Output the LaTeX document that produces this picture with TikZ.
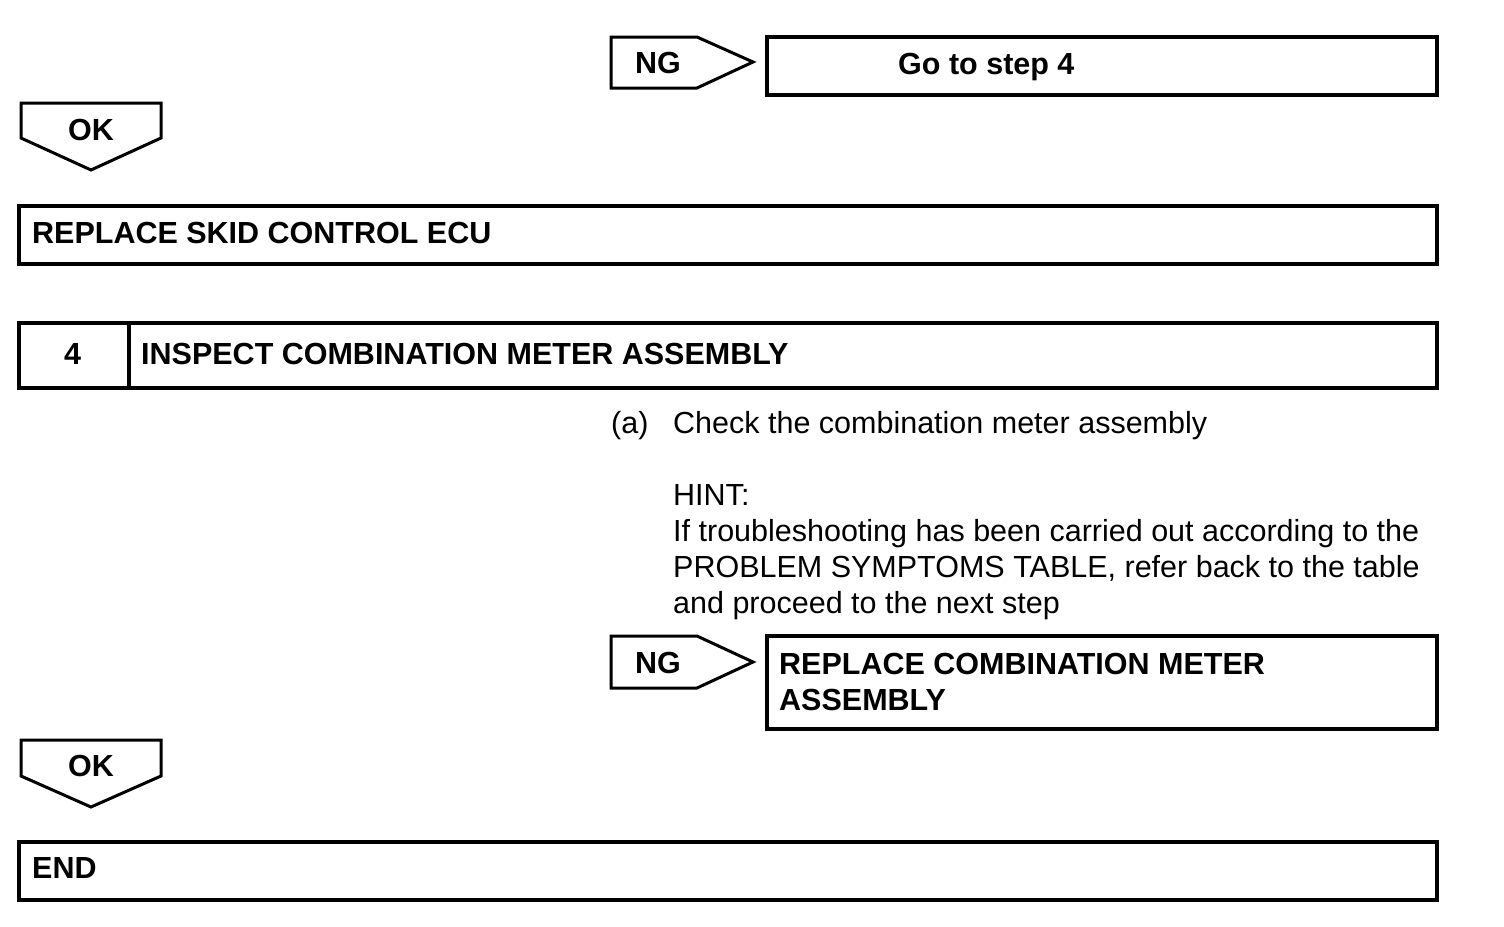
\documentclass[tikz,border=0pt]{standalone}
\usepackage{fontspec}
\setmainfont{Liberation Sans}
\begin{document}
\begin{tikzpicture}[x=1pt,y=-1pt,
  box/.style={draw, line width=3.5pt, rectangle, inner sep=0pt, outer sep=0pt, anchor=north west},
  tag/.style={draw, line width=3pt, line join=miter},
  btxt/.style={font=\fontsize{30.5}{36}\selectfont\bfseries, anchor=base west, inner sep=0pt},
  rtxt/.style={font=\fontsize{30.5}{36}\selectfont, anchor=base west, inner sep=0pt}]
\useasboundingbox (0,0) rectangle (1504,926);

% NG tag 1 and target box
\draw[tag] (611,37) -- (697,37) -- (753,62) -- (697,88) -- (611,88) -- cycle;
\node[btxt] (ng1) at (635,73) {NG};
\node[box, minimum width=670pt, minimum height=58pt] (goto) at (767,37) {};
\node[btxt] (gototxt) at (898,74) {Go to step 4};

% OK tag 1
\draw[tag] (21,103) -- (161,103) -- (161,138) -- (91,170) -- (21,138) -- cycle;
\node[btxt] (ok1) at (68,140) {OK};

% Replace skid control ECU
\node[box, minimum width=1418pt, minimum height=58pt] (skid) at (19,206) {};
\node[btxt] (skidtxt) at (32,243) {REPLACE SKID CONTROL ECU};

% Step 4
\node[box, minimum width=1418pt, minimum height=65pt] (step4) at (19,323) {};
\draw[line width=3.5pt] (step4.north west) ++(110,0) coordinate (d1) -- ++(0,65) coordinate (d2);
\node[btxt] (num4) at (64,364) {4};
\node[btxt] (step4txt) at (141,364) {INSPECT COMBINATION METER ASSEMBLY};

% Instruction text
\node[rtxt] (a) at (611,433) {(a)};
\node[rtxt] (check) at (673,433) {Check the combination meter assembly};
\node[rtxt] (hint) at (673,505) {HINT:};
\node[rtxt] (hint1) at (673,541) {If troubleshooting has been carried out according to the};
\node[rtxt] (hint2) at (673,577) {PROBLEM SYMPTOMS TABLE, refer back to the table};
\node[rtxt] (hint3) at (673,613) {and proceed to the next step};

% NG tag 2 and target box
\draw[tag] (611,636) -- (697,636) -- (753,662) -- (697,688) -- (611,688) -- cycle;
\node[btxt] (ng2) at (635,673) {NG};
\node[box, minimum width=670pt, minimum height=93pt] (repmeter) at (767,636) {};
\node[btxt] (repmetertxt1) at (779,674) {REPLACE COMBINATION METER};
\node[btxt] (repmetertxt2) at (779,710) {ASSEMBLY};

% OK tag 2
\draw[tag] (21,740) -- (161,740) -- (161,776) -- (91,807) -- (21,776) -- cycle;
\node[btxt] (ok2) at (68,776) {OK};

% END
\node[box, minimum width=1418pt, minimum height=58pt] (endbox) at (19,842) {};
\node[btxt] (endtxt) at (32,878) {END};
\end{tikzpicture}
\end{document}
